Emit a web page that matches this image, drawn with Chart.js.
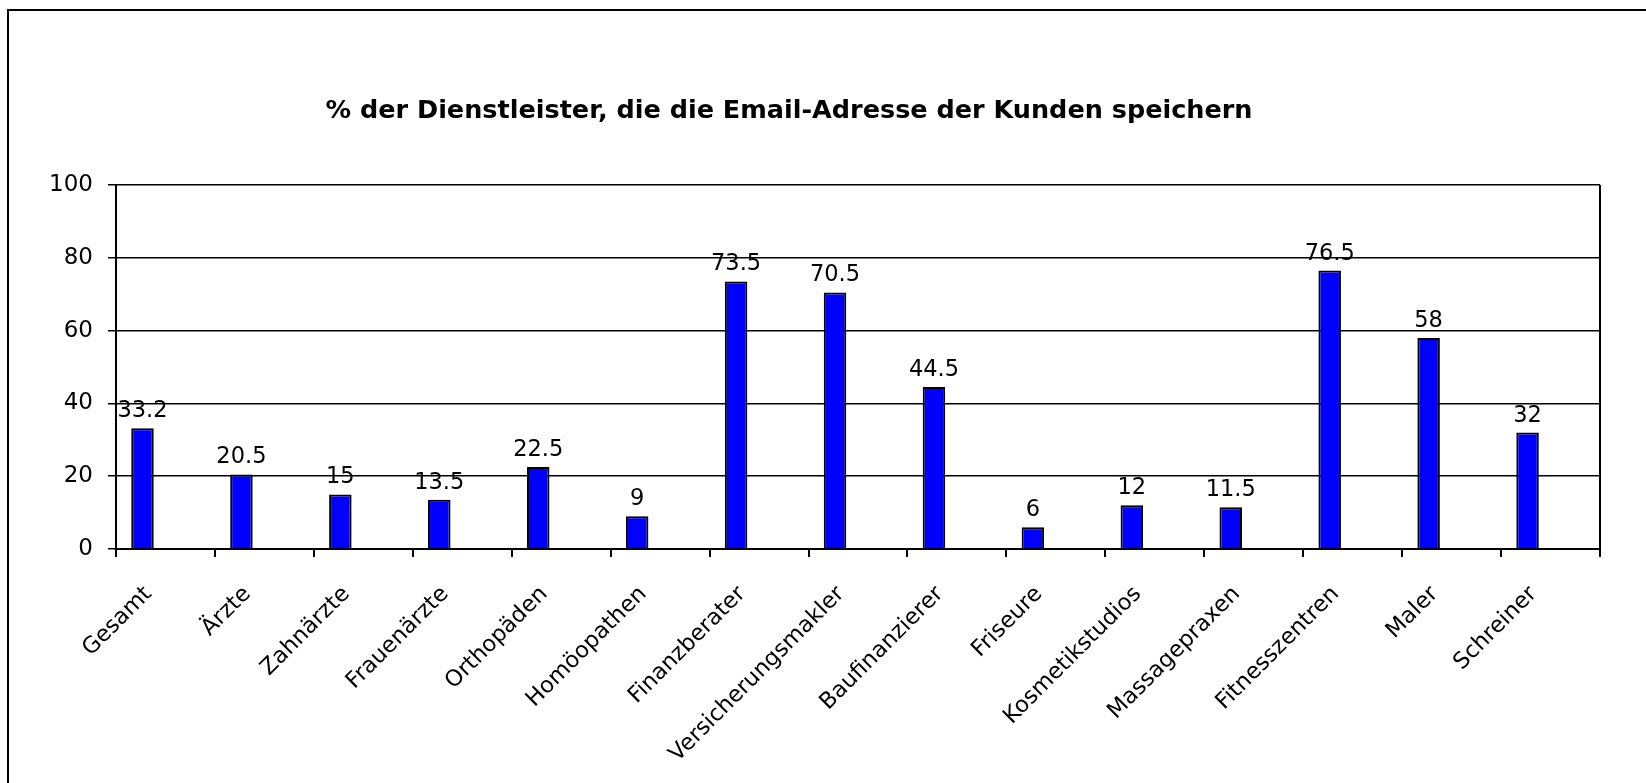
<!DOCTYPE html>
<html>
<head>
<meta charset="utf-8">
<script src="https://cdn.jsdelivr.net/npm/chart.js@4/dist/chart.umd.min.js"></script>
<style>
  html, body { margin: 0; padding: 0; background: #fff; }
  #wrap { width: 1646px; height: 783px; }
</style>
</head>
<body>
<div id="wrap"><canvas id="myChart" width="1646" height="783"></canvas></div>
<script>
// chart data
const categories = ['Gesamt', 'Ärzte', 'Zahnärzte', 'Frauenärzte', 'Orthopäden', 'Homöopathen',
  'Finanzberater', 'Versicherungsmakler', 'Baufinanzierer', 'Friseure', 'Kosmetikstudios',
  'Massagepraxen', 'Fitnesszentren', 'Maler', 'Schreiner'];
const emailShare = [33.2, 20.5, 15, 13.5, 22.5, 9, 73.5, 70.5, 44.5, 6, 12, 11.5, 76.5, 58, 32];
// empty second series (keeps the bars in the left half of each category, like the original)
const emptySeries = categories.map(() => null);
const yTicks = [0, 20, 40, 60, 80, 100];
const chartTitle = '% der Dienstleister, die die Email-Adresse der Kunden speichern';

const FONT = "'DejaVu Sans', Verdana, sans-serif";

// outer frame + right border of plot
const framePlugin = {
  id: 'frame',
  beforeDraw(chart) {
    const c = chart.ctx;
    c.save();
    c.strokeStyle = '#000';
    c.lineWidth = 2;
    c.beginPath();
    c.moveTo(8, 800);
    c.lineTo(8, 10);
    c.lineTo(1700, 10);
    c.stroke();
    c.restore();
  },
  afterDraw(chart) {
    const a = chart.chartArea;
    const c = chart.ctx;
    c.save();
    c.strokeStyle = '#000';
    c.lineWidth = 2;
    c.beginPath();
    c.moveTo(a.right, a.top);
    c.lineTo(a.right, a.bottom);
    c.stroke();
    c.restore();
  },
  afterLayout(chart) {
    // centre the title a bit left of the canvas centre, as in the original
    if (chart.titleBlock) {
      chart.titleBlock.left = 0;
      chart.titleBlock.right = 1578;
    }
  }
};

// value labels over bars
const valueLabels = {
  id: 'valueLabels',
  afterDatasetsDraw(chart) {
    const c = chart.ctx;
    const meta = chart.getDatasetMeta(0);
    c.save();
    c.font = '22.5px ' + FONT;
    c.fillStyle = '#000';
    c.textAlign = 'center';
    c.textBaseline = 'alphabetic';
    meta.data.forEach((bar, i) => {
      c.fillText(String(emailShare[i]), bar.x, bar.y - 11);
    });
    c.restore();
  }
};

const ctx = document.getElementById('myChart').getContext('2d');
new Chart(ctx, {
  type: 'bar',
  data: {
    labels: categories,
    datasets: [{
      label: 'Email-Adresse',
      data: emailShare,
      backgroundColor: '#0000ff',
      borderColor: '#000',
      borderWidth: 2,
      categoryPercentage: 0.929,
      barPercentage: 0.49
    }, {
      label: '',
      data: emptySeries,
      backgroundColor: '#0000ff',
      categoryPercentage: 0.929,
      barPercentage: 0.49
    }]
  },
  options: {
    responsive: false,
    animation: false,
    layout: { padding: { left: 0, right: 46, top: 0, bottom: 0 } },
    plugins: {
      legend: { display: false },
      tooltip: { enabled: false },
      title: {
        display: true,
        text: chartTitle,
        color: '#000',
        font: { family: FONT, size: 25.5, weight: 'bold', lineHeight: 1.2 },
        padding: { top: 96, bottom: 58.4 }
      }
    },
    scales: {
      x: {
        offset: true,
        grid: { display: true, drawOnChartArea: false, drawTicks: true, tickLength: 8, offset: true, color: '#000', lineWidth: 2 },
        border: { display: true, color: '#000', width: 2 },
        ticks: {
          color: '#000',
          font: { family: FONT, size: 22.5 },
          maxRotation: 45,
          minRotation: 45,
          autoSkip: false,
          padding: 24,
          labelOffset: -17
        },
        afterFit(scale) { scale.height = 234; }
      },
      y: {
        min: 0,
        max: 100,
        afterBuildTicks(scale) { scale.ticks = yTicks.map(v => ({ value: v })); },
        grid: { color: '#000', lineWidth: 1.5, tickLength: 8, drawTicks: true },
        border: { display: true, color: '#000', width: 2 },
        ticks: {
          color: '#000',
          font: { family: FONT, size: 23 },
          padding: 15
        },
        afterFit(scale) { scale.width = 116; }
      }
    }
  },
  plugins: [framePlugin, valueLabels]
});
</script>
</body>
</html>
